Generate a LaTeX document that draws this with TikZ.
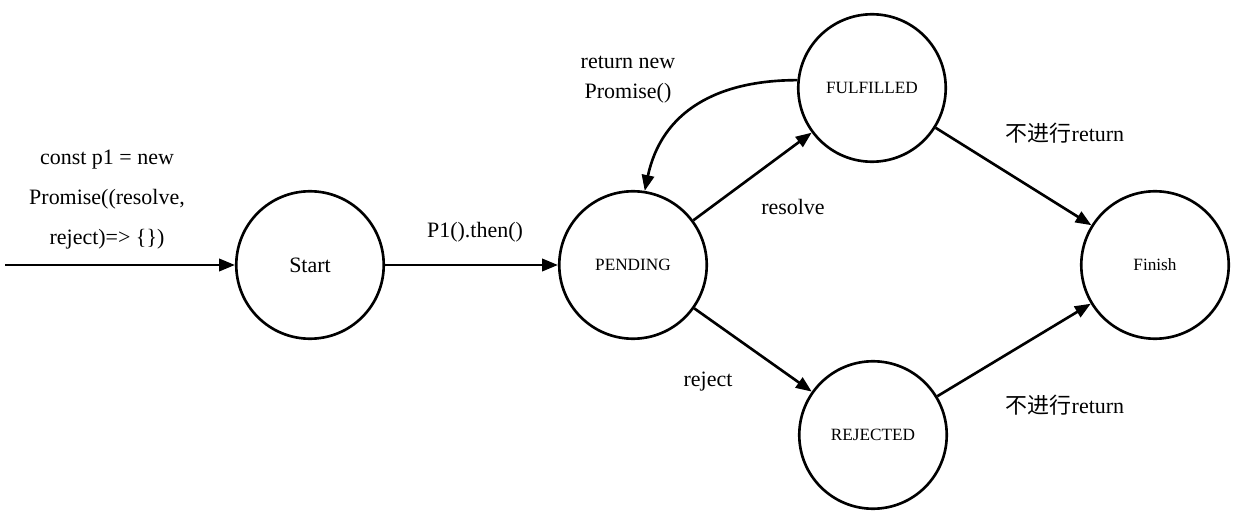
\documentclass[tikz,border=0pt]{standalone}
\usepackage{fontspec}
\setmainfont{Liberation Serif}
\newfontfamily\cjk{Noto Sans CJK SC}
\usetikzlibrary{arrows.meta}
\begin{document}
\begin{tikzpicture}[x=0.02cm,y=-0.02cm,
  state/.style={circle,draw,line width=1.5pt,minimum size=2.95cm,inner sep=0pt},
  big/.style={font=\fontsize{12.5}{14}\selectfont},
  small/.style={font=\fontsize{9.8}{11}\selectfont},
  lbl/.style={font=\fontsize{12.5}{14}\selectfont,align=center,inner sep=0pt},
  arr/.style={line width=1.5pt,-{Triangle[length=9pt,width=7pt]}}]
\useasboundingbox (0,0) rectangle (1245,520);
\node[state,big]   (S) at (310,265) {Start};
\node[state,small] (P) at (633,265) {PENDING};
\node[state,small] (F) at (872,88)  {FULFILLED};
\node[state,small] (R) at (873,435) {REJECTED};
\node[state,small] (E) at (1155,265) {Finish};
\coordinate (in) at (5,265);
\node[lbl,font=\fontsize{12.5}{22.8}\selectfont] (l0) at (107,200) {const p1 = new\\Promise((resolve,\\reject)=> \{\})};
\node[lbl] (l1) at (475,232) {P1().then()};
\node[lbl,font=\fontsize{12.5}{17}\selectfont] (l2) at (628,80) {return new\\Promise()};
\node[lbl] (l3) at (793,207) {resolve};
\node[lbl] (l4) at (708,382) {reject};
\node[lbl] (l5) at (1065,133) {{\cjk 不进行}return};
\node[lbl] (l6) at (1065,405) {{\cjk 不进行}return};
\draw[arr] (in) -- (S);
\draw[arr] (S) -- (P);
\draw[arr] (P) -- (F);
\draw[arr] (P) -- (R);
\draw[arr] (F) -- (E);
\draw[arr] (R) -- (E);
\draw[arr] (F.174) to[out=180,in=78,looseness=1.1] (P.81);
\end{tikzpicture}
\end{document}
